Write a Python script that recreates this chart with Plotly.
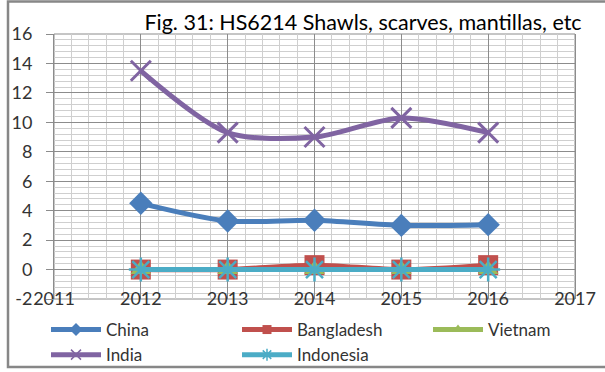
import plotly.graph_objects as go

years = [2012, 2013, 2014, 2015, 2016]
china = [4.5, 3.3, 3.35, 3.0, 3.05]
bangladesh = [0.0, 0.0, 0.3, 0.0, 0.3]
vietnam = [0.0, 0.0, 0.0, 0.0, 0.0]
india = [13.5, 9.3, 9.0, 10.3, 9.3]
indonesia = [0.0, 0.0, 0.0, 0.0, 0.0]

x_ticks = [2011, 2012, 2013, 2014, 2015, 2016, 2017]
y_ticks = [-2, 0, 2, 4, 6, 8, 10, 12, 14, 16]
title_text = "Fig. 31: HS6214 Shawls, scarves, mantillas, etc"

FONT = "Lato"
# name, values, colour, chart marker, legend marker, legend column
series = [
    ("China", china, "#4A7EBB", dict(symbol="diamond", size=18), dict(symbol="diamond", size=10), "legend"),
    ("Bangladesh", bangladesh, "#C0504D", dict(symbol="square", size=20), dict(symbol="square", size=9), "legend2"),
    ("Vietnam", vietnam, "#9BBB59", dict(symbol="triangle-up", size=18), dict(symbol="triangle-up", size=10), "legend3"),
    ("India", india, "#8064A2",
     dict(symbol="x-thin-open", size=20, line=dict(width=3, color="#8064A2")),
     dict(symbol="x-thin-open", size=10, line=dict(width=1.5, color="#8064A2")), "legend"),
    ("Indonesia", indonesia, "#4BACC6",
     dict(symbol="asterisk-open", size=20, line=dict(width=2.5, color="#4BACC6")),
     dict(symbol="asterisk-open", size=10, line=dict(width=1.5, color="#4BACC6")), "legend2"),
]

fig = go.Figure()
for name, vals, color, mk, lmk, lg in series:
    fig.add_trace(go.Scatter(
        x=years, y=vals, name=name, mode="lines+markers", showlegend=False,
        line=dict(color=color, width=5, shape="spline", smoothing=0.8),
        marker=dict(color=color, **mk),
    ))
# legend-only entries with small markers, like the original legend
for name, vals, color, mk, lmk, lg in series:
    fig.add_trace(go.Scatter(
        x=[None], y=[None], name=name, mode="lines+markers", showlegend=True,
        legend=lg,
        line=dict(color=color, width=5),
        marker=dict(color=color, **lmk),
    ))

def legend_box(left_px):
    return dict(orientation="v", xref="container", yref="container",
                x=left_px / 605, xanchor="left", y=1 - 312 / 372, yanchor="top",
                itemwidth=50,
                font=dict(family=FONT, size=17, color="#333333"),
                bgcolor="rgba(0,0,0,0)", traceorder="normal")

fig.update_layout(
    width=605, height=372,
    margin=dict(l=54, r=30, t=34, b=73, autoexpand=False),
    paper_bgcolor="white", plot_bgcolor="white",
    font=dict(family=FONT, size=17, color="#333333"),
    title=dict(text=title_text, x=0.6, xanchor="center", y=0.94, yanchor="middle",
               font=dict(family=FONT, size=21.5, color="#000000")),
    showlegend=True,
    legend=legend_box(46),
    legend2=legend_box(237),
    legend3=legend_box(428),
    shapes=[
        dict(type="rect", xref="paper", yref="paper",
             x0=(8 - 54) / 521, x1=(610 - 54) / 521,
             y0=(299 - 367) / 265, y1=(299 - 1.5) / 265,
             line=dict(color="#878787", width=2.5), layer="below"),
        dict(type="rect", xref="paper", yref="paper", x0=0, x1=1, y0=0, y1=1,
             line=dict(color="#8c8c8c", width=1), layer="below"),
    ],
)
fig.update_xaxes(
    range=[2011, 2017], tickvals=x_ticks, ticktext=[str(v) for v in x_ticks],
    showgrid=True, gridcolor="#8c8c8c", gridwidth=1,
    minor=dict(dtick=0.2, showgrid=True, gridcolor="#cfcfcf", gridwidth=1),
    showline=False, zeroline=False, ticks="",
    anchor="free", position=13 / 265, tickfont=dict(size=18),
)
fig.update_yaxes(
    range=[-2, 16], tickvals=y_ticks, ticktext=[str(v) for v in y_ticks],
    showgrid=True, gridcolor="#8c8c8c", gridwidth=1,
    minor=dict(dtick=0.4, showgrid=True, gridcolor="#cfcfcf", gridwidth=1),
    showline=True, linecolor="#8c8c8c", mirror=True, zeroline=False,
    ticks="outside", ticklen=7, tickcolor="#8c8c8c", ticklabelstandoff=10,
    tickfont=dict(size=18),
)

fig.write_html("out.html")
